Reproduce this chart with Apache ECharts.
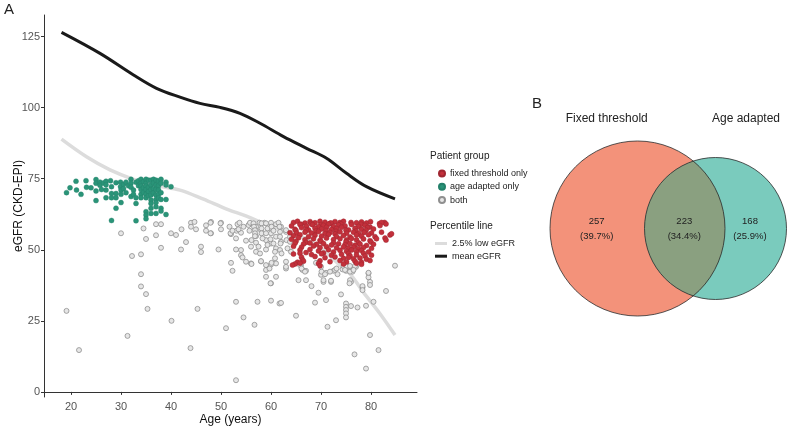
<!DOCTYPE html>
<html><head><meta charset="utf-8">
<script src="https://cdn.jsdelivr.net/npm/echarts@6/dist/echarts.min.js"></script>
<style>html,body{margin:0;padding:0;background:#fff}#c{width:798px;height:428px}</style>
</head><body><div id="c"></div>
<script>
// ---- Data ----
const xTicks = [20, 30, 40, 50, 60, 70, 80];
const yTicks = [0, 25, 50, 75, 100, 125];

const meanAge = [18.1, 25.8, 32.5, 37.1, 41.8, 45.8, 49.8, 53.8, 57.8, 62.5, 67.1, 71.1, 75.1, 79.1, 84.8];
const meanVal = [126.5, 119.1, 111.5, 106.8, 103.7, 101.5, 100.1, 98.0, 94.5, 89.8, 85.7, 82.2, 76.9, 72.2, 67.9];

const lowAge = [18.1, 23.1, 27.8, 32.5, 37.0, 41.8, 46.5, 51.0, 55.1, 59.5, 63.8, 67.8, 70.5, 73.8, 75.8, 78.5, 81.8, 84.8];
const lowVal = [88.9, 82.7, 78.1, 74.8, 72.6, 71.0, 67.8, 64.4, 61.8, 58.6, 56.2, 53.2, 49.9, 44.5, 41.5, 35.0, 27.5, 20.0];

const ageAdaptedOnly = [
[19.1,70.1],[19.8,71.8],[21.0,74.1],[21.1,71.0],[22.0,69.5],[23.0,74.3],[23.1,72.0],[24.0,71.8],
[25.0,74.7],[25.0,73.4],[25.0,70.7],[25.0,67.3],[25.8,73.8],[25.8,72.7],[26.1,71.2],[26.5,73.5],
[27.0,74.1],[27.0,72.9],[27.0,71.0],[27.0,68.3],[27.9,74.3],[28.1,72.2],[28.1,69.8],[28.1,68.3],[28.1,60.3],
[29.0,73.6],[29.0,69.8],[29.0,68.3],[29.0,64.6],[29.9,73.8],[29.9,72.2],[30.0,71.0],[30.0,69.5],[30.0,66.6],
[30.5,73.0],[30.5,71.5],[31.0,73.8],[31.0,70.1],[31.5,72.5],[32.0,74.8],[32.0,73.4],[32.0,72.0],[32.0,68.7],
[32.5,71.0],[32.5,69.5],[33.0,73.8],[33.0,68.3],[33.0,66.3],[33.0,60.2],[33.5,74.3],[33.5,72.5],
[34.0,74.8],[34.0,73.4],[34.0,72.4],[34.0,71.2],[34.0,69.5],[34.0,68.3],[34.5,74.0],[34.5,71.8],[34.5,70.2],
[35.0,74.8],[35.0,73.4],[35.0,72.4],[35.0,71.2],[35.0,69.5],[35.0,68.3],[35.0,63.4],[35.0,62.2],[35.0,60.9],
[35.5,74.5],[35.5,72.0],[35.5,70.5],[35.5,69.0],
[36.0,74.5],[36.0,72.8],[36.0,71.2],[36.0,69.3],[36.0,67.5],[36.0,66.3],[36.0,64.6],[36.0,62.8],
[36.5,74.8],[36.5,73.5],[36.5,71.5],[36.5,70.0],
[37.0,74.5],[37.0,72.8],[37.0,71.2],[37.0,69.3],[37.0,67.7],[37.0,66.6],[37.0,65.1],[37.0,62.8],
[37.5,74.2],[37.5,72.5],[37.5,71.0],[37.5,69.5],[37.5,68.2],
[38.0,74.8],[38.0,73.4],[38.0,70.1],[38.0,67.7],[38.0,64.6],[38.0,63.6],
[39.0,73.8],[39.0,72.8],[39.0,67.7],[39.0,62.4],[40.0,72.2]
];

const fixedOnly = [
[64.5,59.6],[65.3,60.0],[66.8,59.4],[67.8,59.9],[68.8,59.5],[69.8,60.0],[70.8,59.7],[71.8,59.3],[72.8,59.9],[73.8,59.6],[74.5,60.0],[77.1,59.5],[78.1,59.8],[79.1,59.4],[79.9,59.9],[81.7,59.2],[82.7,59.6],
[66.0,59.0],[68.0,59.2],[70.0,58.9],[72.0,59.4],[74.0,59.1],[76.0,59.6],[78.0,59.0],[83.0,59.1],[82.1,59.6],
[64.1,58.4],[65.8,58.9],[67.1,58.3],[68.3,58.8],[69.5,58.1],[70.5,58.6],[71.5,59.0],[72.5,58.2],[73.5,58.7],[74.8,58.4],[76.1,58.9],[77.5,58.2],[78.8,58.6],[79.8,58.0],[81.8,58.5],
[64.8,57.2],[66.1,57.8],[67.5,57.0],[68.8,57.6],[70.1,57.3],[71.1,57.9],[72.1,57.1],[73.1,57.5],[74.1,57.9],[75.5,57.0],[76.8,57.6],[78.1,57.2],[79.3,57.8],[80.5,57.3],
[65.0,56.7],[67.0,56.9],[69.0,56.6],[71.0,56.8],[73.0,56.5],[75.0,56.9],[77.0,56.6],[79.0,56.9],
[63.8,56.0],[65.1,55.8],[66.8,56.2],[68.1,55.9],[69.5,56.4],[70.8,55.7],[71.8,56.1],[72.8,55.6],[73.8,56.3],[75.1,55.8],[76.5,56.2],[77.5,55.7],[78.6,56.1],[80.1,55.9],[82.1,56.2],
[64.5,54.9],[65.8,55.3],[67.5,54.6],[68.8,55.1],[70.1,54.8],[71.5,55.4],[73.1,54.7],[74.5,55.0],[75.8,54.5],[77.1,55.2],[78.1,54.8],[79.5,55.3],[80.8,54.6],[83.8,55.2],[84.1,55.6],
[64.1,53.7],[65.5,54.2],[66.8,53.5],[68.5,53.9],[69.8,53.3],[71.1,54.1],[72.5,53.6],[73.8,53.9],[75.1,53.4],[76.1,54.0],[77.1,53.5],[78.5,53.8],[79.8,53.2],[81.1,53.9],[82.8,54.1],[83.0,53.4],
[65.0,53.0],[67.0,52.6],[70.0,52.9],[72.5,52.4],[75.0,52.8],[77.5,52.5],[80.0,52.7],
[64.8,52.3],[66.5,52.0],[67.8,52.4],[69.1,51.9],[70.5,52.2],[72.1,51.7],[73.5,52.1],[74.8,51.8],[75.8,52.2],[76.8,51.6],[77.8,52.0],[79.1,51.5],[80.5,51.9],
[64.5,51.2],[66.1,50.9],[68.5,51.3],[69.8,50.8],[71.1,51.1],[73.1,50.7],[74.5,51.0],[75.5,50.6],[76.5,50.9],[77.5,50.4],[78.5,50.8],[80.1,50.5],
[65.8,49.9],[67.8,50.1],[69.5,49.6],[71.5,50.0],[73.8,49.8],[75.1,49.5],[76.1,49.9],[77.1,49.4],[78.1,49.7],[79.5,49.2],
[67.0,49.0],[70.5,48.9],[72.5,49.2],[75.5,48.7],[78.5,48.8],
[64.5,48.5],[65.8,48.8],[68.1,48.3],[70.1,48.6],[72.1,48.1],[74.1,48.4],[75.8,47.9],[77.1,48.2],[78.8,47.8],[80.1,48.1],
[66.1,47.4],[68.8,47.6],[70.8,47.2],[72.8,47.5],[74.5,47.0],[75.5,47.3],[76.5,46.8],[77.8,47.1],[79.1,46.7],
[66.3,46.5],[66.5,46.0],[69.8,46.1],[71.8,45.8],[73.8,46.2],[75.1,45.7],[76.8,46.0],[78.1,45.6],[79.8,46.2],
[65.3,45.6],[64.8,45.0],[65.8,45.3],[69.5,45.2],[74.5,45.0],[77.1,45.3],[78.1,44.9],[64.3,44.6],[69.8,44.4]
];

const both = [
[19.1,28.5],[21.6,14.7],[30.0,55.8],[31.3,19.7],[32.2,47.8],[34.0,48.4],[34.0,41.4],[34.0,37.1],[34.5,57.5],[35.0,53.8],[35.0,34.4],[35.3,29.2],
[37.0,59.0],[37.0,55.1],[38.0,59.0],[38.0,50.7],[40.0,55.8],[40.1,25.0],[41.0,55.2],[42.0,50.1],[42.1,57.2],[43.0,52.7],[43.9,15.4],
[44.0,59.5],[44.0,58.1],[44.7,59.8],[45.0,57.2],[45.3,29.2],[46.0,51.1],[46.0,49.2],[47.0,58.6],[47.0,56.7],[48.0,59.8],[48.0,55.8],
[49.5,50.1],[50.0,59.5],[50.0,57.2],[51.0,22.4],[51.7,58.1],[52.0,45.4],[52.0,55.5],[52.3,42.6],[53.0,31.7],[53.0,4.1],[53.0,50.1],
[53.1,56.7],[53.3,59.0],[53.0,54.0],[54.0,49.9],[54.0,48.1],[54.0,56.0],[54.5,26.2],[55.0,53.2],[55.0,45.8],[55.7,59.0],[56.0,45.2],
[56.0,51.1],[56.1,53.4],[56.7,23.6],[57.0,58.1],[57.0,54.8],[57.0,52.5],[57.0,49.3],[57.3,31.7],[57.7,59.5],[58.0,56.9],[58.0,45.9],
[58.7,59.5],[59.0,42.9],[59.0,40.5],[59.0,53.4],[59.0,50.1],[60.0,59.5],[60.0,57.4],[60.0,55.8],[60.0,38.2],[60.0,32.1],[60.0,44.8],
[60.0,52.2],[61.0,59.0],[61.0,54.6],[61.0,50.5],[61.0,45.2],[61.7,31.1],[62.0,58.1],[62.0,52.8],[62.0,31.3],[63.0,56.3],[63.0,45.8],
[63.0,43.4],[64.0,49.3],[64.0,54.6],[65.0,26.8],[65.5,39.3],[66.0,44.6],[66.3,42.9],[67.0,39.3],[67.0,42.6],[68.1,37.2],[68.8,31.4],
[69.5,34.9],[70.0,44.0],[70.0,41.2],[70.5,38.7],[71.0,41.9],[71.0,32.3],[71.3,22.9],[72.0,38.7],[72.5,42.6],[73.0,25.2],[73.3,41.4],
[74.0,34.3],[74.3,43.1],[75.0,42.6],[75.0,31.1],[75.0,29.9],[75.0,28.8],[75.0,27.6],[75.0,26.2],[75.8,44.0],[76.0,38.7],[76.0,30.2],
[76.3,42.3],[76.7,13.2],[77.0,44.0],[77.3,29.7],[78.3,36.7],[79.0,8.2],[79.0,30.3],[79.5,41.7],[79.5,40.3],[79.8,20.0],[79.8,38.7],
[79.8,37.6],[80.5,31.7],[81.5,14.7],[83.0,35.5],[84.8,44.4],
[47.9,59.5],[47.9,55.8],[49.9,59.3],[51.9,55.8],[52.3,56.7],[53.7,59.5],[53.5,57.2],[54.3,47.3],[54.5,58.1],[55.5,58.7],[55.7,56.7],
[55.8,59.5],[56.1,45.0],[56.5,59.3],[56.6,58.1],[56.8,56.9],[56.8,55.8],[56.8,54.8],[57.5,51.1],[57.8,48.7],[58.0,46.0],[58.1,59.3],
[58.1,57.5],[58.1,55.8],[58.3,54.0],[59.0,59.3],[59.3,57.5],[59.0,55.8],[59.3,51.7],[59.0,44.6],[59.7,43.4],[60.1,58.1],[60.5,56.7],
[59.9,53.7],[60.5,52.2],[60.8,49.3],[60.8,47.0],[60.1,45.4],[61.5,59.5],[61.7,58.1],[61.8,56.3],[61.8,54.6],[61.9,52.2],[61.8,49.9],
[62.1,48.7],[61.0,40.5],[59.9,38.2],[63.0,56.9],[63.1,53.4],[63.3,50.5],[63.0,44.0],[63.8,54.6],
[63.8,52.8],[65.8,44.6],[66.1,43.4],[66.8,42.3],[69.0,45.4],[70.1,42.3],[70.8,41.4],[71.8,42.3],[72.8,42.9],[73.1,43.4],[74.5,44.3],
[75.1,44.3],[75.8,44.3],[76.8,44.3],[74.8,42.9],[75.8,42.3],[76.5,42.9],[79.5,41.9],[75.8,39.3],[75.7,38.2],[70.5,39.3],[72.0,39.1],
[78.3,37.2],[78.3,35.8]
];

const vennSets = ['Fixed threshold', 'Age adapted'];
const vennCounts = [257, 223, 168];
const vennPct = ['39.7%', '34.4%', '25.9%'];

// ---- Chart ----
const FONT = '"Liberation Sans", Arial, sans-serif';
const chart = echarts.init(document.getElementById('c'), null, {renderer: 'canvas'});

// Venn geometry (layout)
const c1 = {x: 637.5, y: 228.5, r: 87.5};
const c2 = {x: 715.5, y: 228.5, r: 71};
const d = c2.x - c1.x;
const ax = (d*d + c1.r*c1.r - c2.r*c2.r) / (2*d);
const h = Math.sqrt(c1.r*c1.r - ax*ax);
const lensPts = [];
const N = 60;
const top2 = Math.atan2(-h, ax - d), bot2 = Math.atan2(h, ax - d);
for (let i = 0; i <= N; i++) {
  const t = top2 + (bot2 - 2*Math.PI - top2) * i / N;
  lensPts.push([c2.x + c2.r*Math.cos(t), c2.y + c2.r*Math.sin(t)]);
}
const bot1 = Math.atan2(h, ax), top1 = Math.atan2(-h, ax);
for (let i = 0; i <= N; i++) {
  const t = bot1 + (top1 - bot1) * i / N;
  lensPts.push([c1.x + c1.r*Math.cos(t), c1.y + c1.r*Math.sin(t)]);
}

const txt = (x, y, text, size, align) => ({
  type: 'text', x, y, z: 13,
  style: {text, fill: '#222', font: `${size}px ${FONT}`, align: align || 'center', verticalAlign: 'middle'}
});

const option = {
  animation: false,
  textStyle: {fontFamily: FONT},
  grid: {left: 44, top: 15, width: 373, height: 382, containLabel: false, outerBoundsMode: 'none'},
  xAxis: {
    type: 'value', min: 14.6, max: 89.2,
    name: 'Age (years)', nameLocation: 'middle', nameGap: 17, nameMoveOverlap: false,
    nameTextStyle: {fontSize: 12, color: '#111', verticalAlign: 'top'},
    axisLine: {show: true, lineStyle: {color: '#333', width: 1}},
    axisTick: {show: true, length: 3, lineStyle: {color: '#333'}, customValues: xTicks},
    axisLabel: {fontSize: 11, color: '#555', margin: 4, customValues: xTicks},
    splitLine: {show: false}
  },
  yAxis: {
    type: 'value', min: -1.8, max: 132.6,
    name: 'eGFR (CKD-EPI)', nameLocation: 'middle', nameGap: 19.5, nameRotate: 90, nameMoveOverlap: false,
    nameTextStyle: {fontSize: 12, color: '#111'},
    axisLine: {show: true, lineStyle: {color: '#333', width: 1}},
    axisTick: {show: true, length: 3, lineStyle: {color: '#333'}, customValues: yTicks},
    axisLabel: {fontSize: 11, color: '#555', margin: 4, customValues: yTicks},
    splitLine: {show: false}
  },
  legend: [
    {
      orient: 'vertical', left: 433, top: 164, itemWidth: 6, itemHeight: 6, itemGap: 4.3,
      textStyle: {fontSize: 9, color: '#222'},
      selectedMode: false,
      data: [{name: 'fixed threshold only', icon: 'circle'}, {name: 'age adapted only', icon: 'circle'}, {name: 'both', icon: 'circle'}]
    },
    {
      orient: 'vertical', left: 430, top: 234, itemWidth: 12, itemHeight: 3, itemGap: 3.7,
      textStyle: {fontSize: 9, color: '#222'},
      selectedMode: false,
      data: [{name: '2.5% low eGFR', icon: 'rect'}, {name: 'mean eGFR', icon: 'rect'}]
    }
  ],
  series: [
    {
      name: '2.5% low eGFR', type: 'line', smooth: 0.35, showSymbol: false, z: 1,
      data: lowAge.map((a, i) => [a, lowVal[i]]),
      lineStyle: {color: '#dcdcdc', width: 3.5}, itemStyle: {color: '#dcdcdc'}
    },
    {
      name: 'mean eGFR', type: 'line', smooth: 0.35, showSymbol: false, z: 1,
      data: meanAge.map((a, i) => [a, meanVal[i]]),
      lineStyle: {color: '#1a1a1a', width: 3}, itemStyle: {color: '#1a1a1a'}
    },
    {
      name: 'both', type: 'scatter', symbolSize: 5, z: 2, data: both,
      itemStyle: {color: '#e6e6e6', borderColor: '#8f8f8f', borderWidth: 0.8, opacity: 1}
    },
    {
      name: 'fixed threshold only', type: 'scatter', symbolSize: 5, z: 3, data: fixedOnly,
      itemStyle: {color: '#c3303b', borderColor: '#a02631', borderWidth: 0.5, opacity: 1}
    },
    {
      name: 'age adapted only', type: 'scatter', symbolSize: 5, z: 3, data: ageAdaptedOnly,
      itemStyle: {color: '#2a9478', borderColor: '#23806a', borderWidth: 0.4, opacity: 1}
    }
  ],
  graphic: [
    txt(9, 10, 'A', 15),
    txt(537, 104, 'B', 15),
    txt(430, 156, 'Patient group', 10, 'left'),
    txt(430, 226, 'Percentile line', 10, 'left'),
    {type: 'circle', shape: {cx: c1.x, cy: c1.y, r: c1.r}, style: {fill: '#f3927a'}, z: 10},
    {type: 'circle', shape: {cx: c2.x, cy: c2.y, r: c2.r}, style: {fill: '#7acbbd'}, z: 10},
    {type: 'polygon', shape: {points: lensPts}, style: {fill: '#8aa080'}, z: 11},
    {type: 'circle', shape: {cx: c1.x, cy: c1.y, r: c1.r}, style: {fill: 'none', stroke: '#2a2a2a', lineWidth: 0.8}, z: 12},
    {type: 'circle', shape: {cx: c2.x, cy: c2.y, r: c2.r}, style: {fill: 'none', stroke: '#2a2a2a', lineWidth: 0.8}, z: 12},
    txt(606.7, 119, vennSets[0], 12),
    txt(746, 119, vennSets[1], 12),
    txt(596.7, 221, String(vennCounts[0]), 9.5),
    txt(596.7, 236, '(' + vennPct[0] + ')', 9.5),
    txt(684.3, 221, String(vennCounts[1]), 9.5),
    txt(684.3, 236, '(' + vennPct[1] + ')', 9.5),
    txt(750, 221, String(vennCounts[2]), 9.5),
    txt(750, 236, '(' + vennPct[2] + ')', 9.5)
  ]
};
chart.setOption(option);
</script></body></html>
